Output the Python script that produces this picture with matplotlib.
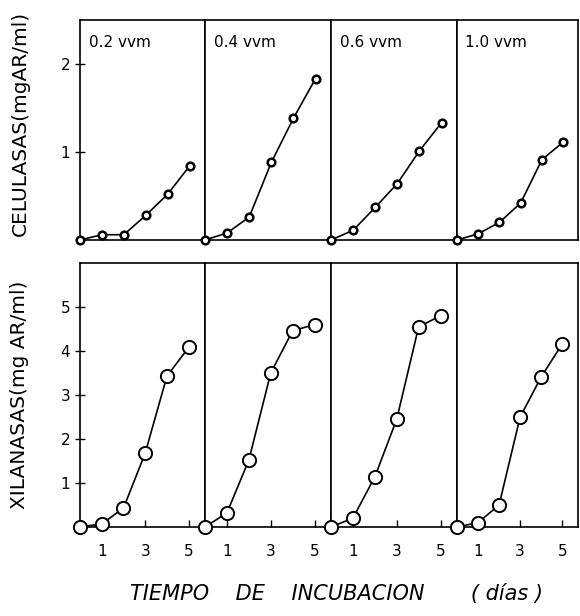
import matplotlib
matplotlib.use("Agg")
import matplotlib.pyplot as plt
import numpy as np

# dias de incubacion
dias = [0, 1, 2, 3, 4, 5]
aireacion = ["0.2 vvm", "0.4 vvm", "0.6 vvm", "1.0 vvm"]

# celulasas (mg AR/ml)
cel_02 = [0, 0.06, 0.06, 0.28, 0.52, 0.84]
cel_04 = [0, 0.08, 0.26, 0.88, 1.38, 1.83]
cel_06 = [0, 0.11, 0.37, 0.64, 1.01, 1.33]
cel_10 = [0, 0.07, 0.2, 0.42, 0.91, 1.11]

# xilanasas (mg AR/ml)
xil_02 = [0, 0.07, 0.43, 1.68, 3.43, 4.08]
xil_04 = [0, 0.32, 1.52, 3.5, 4.46, 4.6]
xil_06 = [0, 0.2, 1.14, 2.45, 4.55, 4.8]
xil_10 = [0, 0.1, 0.5, 2.5, 3.41, 4.16]

celulasas = [cel_02, cel_04, cel_06, cel_10]
xilanasas = [xil_02, xil_04, xil_06, xil_10]

fig = plt.figure(figsize=(5.8, 6.16), dpi=100)
W, H = 580.0, 616.0
bordes = [80, 205, 331, 457, 578]

def panel(i, top, bottom):
    x0 = bordes[i]
    w = bordes[i + 1] - bordes[i]
    return fig.add_axes([x0 / W, 1 - bottom / H, w / W, (bottom - top) / H])

for i in range(4):
    # fila de arriba: celulasas
    ax = panel(i, 19.5, 240)
    ax.plot(dias, celulasas[i], color="black", lw=1.2, marker="o", ms=5.5,
            mfc="white", mec="black", mew=1.8, clip_on=False, zorder=3)
    ax.set_xlim(0, 5.7)
    ax.set_ylim(0, 2.5)
    ax.set_xticks([])
    if i == 0:
        ax.set_yticks([1, 2])
        ax.tick_params(axis="y", direction="inout", length=7, width=1, labelsize=11)
    else:
        ax.set_yticks([])
    ax.text(0.07, 0.93, aireacion[i], transform=ax.transAxes, fontsize=11,
            ha="left", va="top")
    for s in ax.spines.values():
        s.set_linewidth(1.2)

    # fila de abajo: xilanasas
    ax2 = panel(i, 263, 527)
    ax2.plot(dias, xilanasas[i], color="black", lw=1.2, marker="o", ms=9.5,
             mfc="white", mec="black", mew=1.4, clip_on=False, zorder=3)
    ax2.set_xlim(0, 5.75)
    ax2.set_ylim(0, 6.0)
    ax2.set_xticks([1, 3, 5])
    ax2.tick_params(axis="x", direction="in", length=5, width=1, labelsize=11, pad=12)
    if i == 0:
        ax2.set_yticks([1, 2, 3, 4, 5])
        ax2.tick_params(axis="y", direction="inout", length=7, width=1, labelsize=11)
    else:
        ax2.set_yticks([])
    for s in ax2.spines.values():
        s.set_linewidth(1.2)

fig.text(20 / W, 1 - 123 / H, "CELULASAS(mgAR/ml)", rotation=90, ha="center",
         va="center", fontsize=14.5)
fig.text(20 / W, 1 - 395 / H, "XILANASAS(mg AR/ml)", rotation=90, ha="center",
         va="center", fontsize=14.5)
fig.text(337 / W, 1 - 594 / H, "TIEMPO    DE    INCUBACION       ( días )",
         ha="center", va="center", fontsize=15, style="italic")

fig.savefig("out.png", dpi=100)
